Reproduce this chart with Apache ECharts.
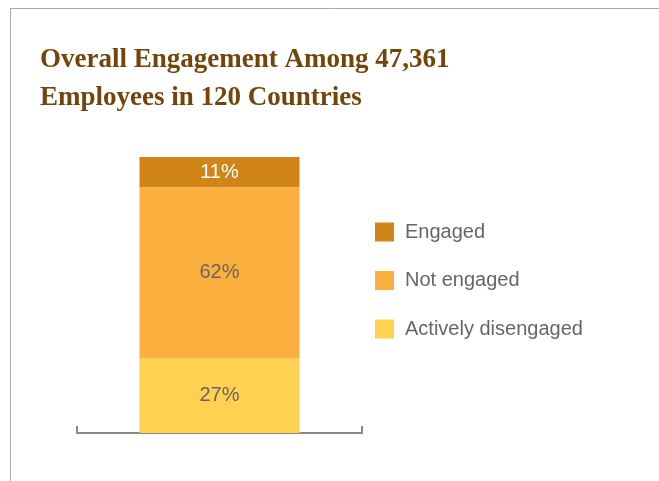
<!DOCTYPE html>
<html>
<head>
<meta charset="utf-8">
<script src="https://cdn.jsdelivr.net/npm/echarts@6/dist/echarts.min.js"></script>
<style>html,body{margin:0;padding:0;background:#fff;}#c{width:659px;height:481px;}</style>
</head>
<body>
<div id="c"></div>
<script>
const categories = ['All'];
const seriesNames = ['Actively disengaged', 'Not engaged', 'Engaged'];
const activelyDisengaged = [27];
const notEngaged = [62];
const engaged = [11];
const legendOrder = ['Engaged', 'Not engaged', 'Actively disengaged'];

const colors = {
  'Engaged': '#D18418',
  'Not engaged': '#FBAF3F',
  'Actively disengaged': '#FFD150'
};
const labelColors = {
  'Engaged': '#ffffff',
  'Not engaged': '#666666',
  'Actively disengaged': '#666666'
};
const values = {
  'Actively disengaged': activelyDisengaged,
  'Not engaged': notEngaged,
  'Engaged': engaged
};

const chart = echarts.init(document.getElementById('c'), null, {renderer: 'canvas'});
chart.setOption({
  animation: false,
  backgroundColor: '#ffffff',
  title: {
    text: 'Overall Engagement Among 47,361\nEmployees in 120 Countries',
    left: 40,
    top: 41,
    padding: 0,
    textStyle: {
      fontFamily: '"Liberation Serif", "DejaVu Serif", serif',
      fontWeight: 'bold',
      fontSize: 27,
      lineHeight: 38,
      color: '#74450A'
    }
  },
  graphic: [
    {type: 'line', shape: {x1: 10, y1: 8.5, x2: 659, y2: 8.5}, style: {stroke: '#aaaaaa', lineWidth: 1}},
    {type: 'line', shape: {x1: 10.5, y1: 8, x2: 10.5, y2: 481}, style: {stroke: '#aaaaaa', lineWidth: 1}}
  ],
  legend: {
    orient: 'vertical',
    left: 375,
    top: 222,
    itemWidth: 19,
    itemHeight: 19,
    itemGap: 28.5,
    padding: 0,
    icon: 'rect',
    data: legendOrder,
    textStyle: {
      fontFamily: '"Liberation Sans", Arial, sans-serif',
      fontSize: 20,
      color: '#666666',
      padding: [0, 0, 0, 6]
    }
  },
  grid: {left: 77, right: 297, top: 157, bottom: 48, containLabel: false},
  xAxis: {
    type: 'category',
    data: categories,
    boundaryGap: true,
    axisLine: {show: true, lineStyle: {color: '#888888', width: 2}},
    axisTick: {show: true, inside: true, length: 7, lineStyle: {color: '#888888', width: 2}},
    axisLabel: {show: false}
  },
  yAxis: {
    type: 'value',
    min: 0,
    max: 100,
    show: false,
    splitLine: {show: false}
  },
  series: seriesNames.map(name => ({
    name: name,
    type: 'bar',
    stack: 'total',
    barWidth: 160,
    data: values[name],
    itemStyle: {color: colors[name]},
    label: {
      show: true,
      position: 'inside',
      formatter: '{c}%',
      fontFamily: '"Liberation Sans", Arial, sans-serif',
      fontSize: 20,
      color: labelColors[name]
    }
  }))
});
</script>
</body>
</html>
